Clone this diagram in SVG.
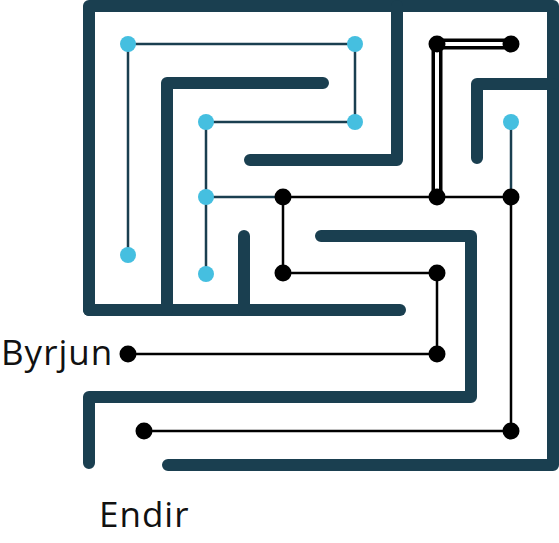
<svg xmlns="http://www.w3.org/2000/svg" width="559" height="543" viewBox="0 0 559 543">
<style>
.wall{fill:none;stroke:#1a3f50;stroke-width:12;stroke-linecap:round;stroke-linejoin:round}
.tl{fill:none;stroke:#1a3f50;stroke-width:2.5}
.bl{fill:none;stroke:#000;stroke-width:2.5}
.dbl{fill:none;stroke:#000;stroke-width:11}
.dbi{fill:none;stroke:#fff;stroke-width:4}
.bn{fill:#45bfe0}
.kn{fill:#000}
.lbl{font-family:"Open Sans","Noto Sans",sans-serif;font-size:35px;letter-spacing:1px;fill:#111}
</style>
<rect width="559" height="543" fill="#fff"/>
<g id="walls">
<path class="wall" d="M89,310 V6 H553 V465 H168"/>
<path class="wall" d="M89,310 H400"/>
<path class="wall" d="M397,6 V160 H250"/>
<path class="wall" d="M323,83 H167 V310"/>
<path class="wall" d="M244,236 V310"/>
<path class="wall" d="M321,236 H471 V397 H89 V463"/>
<path class="wall" d="M553,84 H477 V158"/>
</g>
<g id="connectors">
<path class="tl" d="M128,255 V44 H355 V122 H206 V274"/>
<path class="tl" d="M206,197 H283"/>
<path class="tl" d="M511,122 V197"/>
<path class="bl" d="M283,197 H511 V431 H144"/>
<path class="bl" d="M283,197 V273 H437 V354 H128"/>
<path class="dbl" d="M511,44 H437 V197"/>
<path class="dbi" d="M511,44 H437 V197"/>
</g>
<g id="nodes">
<circle class="bn" cx="128" cy="44" r="8"/>
<circle class="bn" cx="355" cy="44" r="8"/>
<circle class="bn" cx="128" cy="255" r="8"/>
<circle class="bn" cx="206" cy="122" r="8"/>
<circle class="bn" cx="355" cy="122" r="8"/>
<circle class="bn" cx="206" cy="197" r="8"/>
<circle class="bn" cx="206" cy="274" r="8"/>
<circle class="bn" cx="511" cy="122" r="8"/>
<circle class="kn" cx="437" cy="44" r="8.5"/>
<circle class="kn" cx="511" cy="44" r="8.5"/>
<circle class="kn" cx="283" cy="197" r="8.5"/>
<circle class="kn" cx="437" cy="197" r="8.5"/>
<circle class="kn" cx="511" cy="197" r="8.5"/>
<circle class="kn" cx="283" cy="273" r="8.5"/>
<circle class="kn" cx="437" cy="273" r="8.5"/>
<circle class="kn" cx="437" cy="354" r="8.5"/>
<circle class="kn" cx="128" cy="354" r="8.5"/>
<circle class="kn" cx="144" cy="431" r="8.5"/>
<circle class="kn" cx="511" cy="431" r="8.5"/>
</g>
<g id="labels">
<text class="lbl" x="1" y="365">Byrjun</text>
<text class="lbl" x="99" y="527">Endir</text>
</g>
</svg>
